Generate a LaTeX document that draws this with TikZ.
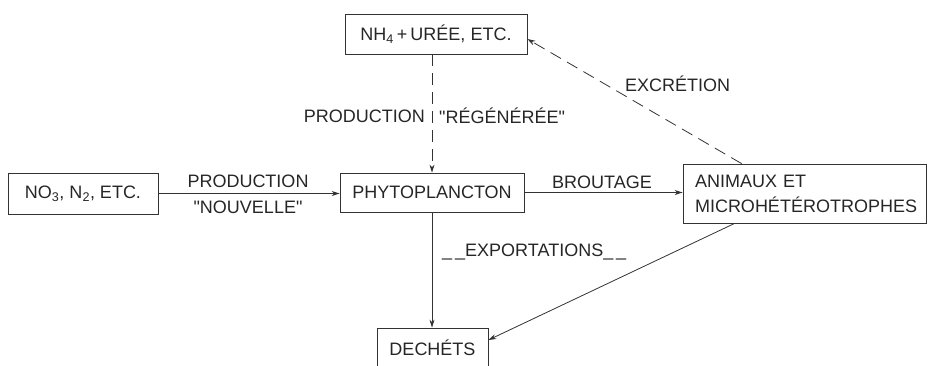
\documentclass[tikz,border=0pt]{standalone}
\usepackage{fontspec}
\setmainfont{Liberation Sans}
\usetikzlibrary{arrows.meta}
\newcommand{\qq}{\textquotedbl}
\begin{document}
\begin{tikzpicture}[x=1pt,y=-1pt,
  every node/.style={font=\fontsize{18}{25}\selectfont, text=black!85},
  box/.style={draw=black!80, line width=0.8pt, inner sep=0pt, align=center},
  arr/.style={draw=black!80, line width=0.8pt, -{Stealth[length=8pt,width=5pt]}},
  dsh/.style={dash pattern=on 12pt off 7pt},
  lbl/.style={inner sep=0pt}]
\useasboundingbox (0,0) rectangle (929,365);
% boxes
\node[box, minimum width=150pt, minimum height=41pt] (no3) at (83,193.5) {NO\textsubscript{3}, N\textsubscript{2}, ETC.};
\node[box, minimum width=182pt, minimum height=40pt] (nh4) at (436,34) {NH\textsubscript{4}\,+\,URÉE, ETC.};
\node[box, minimum width=184pt, minimum height=39pt] (phyto) at (432,192.5) {PHYTOPLANCTON};
\node[box, minimum height=59pt, inner xsep=12pt, text width=219pt, align=left] (anim) at (804.5,193.5) {ANIMAUX ET\\MICROHÉTÉROTROPHES};
\node[box, minimum width=111pt, minimum height=40pt] (dech) at (432.5,348) {DECHÉTS};
% connectors
\draw[arr] (no3.east) -- (no3.east -| phyto.west);
\draw[arr,dsh] (phyto.north |- nh4.south) -- (phyto.north);
\draw[arr] (phyto.east) -- (phyto.east -| anim.west);
\coordinate (exs) at ([xshift=59pt]anim.north west);
\draw[arr,dsh] (exs) -- ([yshift=-5pt]nh4.east);
\draw[arr] (phyto.south) -- (phyto.south |- dech.north);
\coordinate (ads) at ([xshift=52pt]anim.south west);
\draw[arr] (ads) -- ([yshift=8pt]dech.east);
% labels
\node[lbl] (lprod1) at (248,181) {PRODUCTION};
\node[lbl] (lprod2) at (248,207) {\qq NOUVELLE\qq};
\node[lbl, anchor=east] (lreg1) at (425,116) {PRODUCTION};
\node[lbl, anchor=west] (lreg2) at (439,116) {\qq RÉGÉNÉRÉE\qq};
\node[lbl] (lbrout) at (602,182) {BROUTAGE};
\node[lbl, anchor=west] (lexcr) at (625,84) {EXCRÉTION};
\node[lbl, anchor=west] (lexport) at (442,252) {\_\,\_EXPORTATIONS\_\,\_};
\end{tikzpicture}
\end{document}
